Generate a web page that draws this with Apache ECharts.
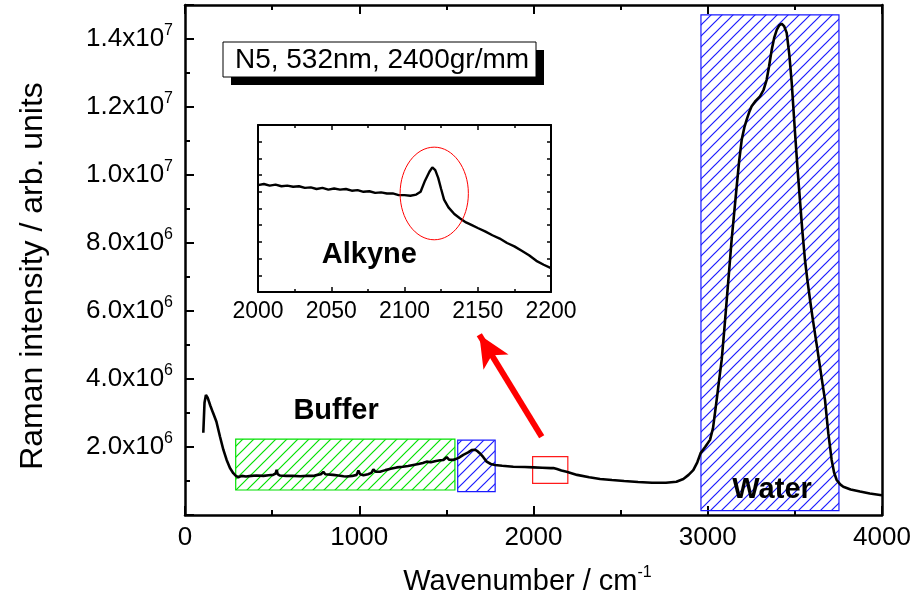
<!DOCTYPE html>
<html>
<head>
<meta charset="utf-8">
<script src="https://cdn.jsdelivr.net/npm/echarts@6/dist/echarts.min.js"></script>
<style>
  html, body { margin: 0; padding: 0; background: #fff; }
  #chart { width: 918px; height: 610px; }
</style>
</head>
<body>
<div id="chart"></div>
<script>
// Raman spectrum of sample N5 (532 nm excitation, 2400 gr/mm grating)
const wavenumber = [105, 112, 120, 130, 145, 162, 180, 201, 220, 239, 258, 277, 292, 306, 315, 325, 350, 380, 410, 450,
  480, 505, 520, 526, 532, 545, 580, 620, 660, 700, 736, 760, 780, 794, 805, 850, 880, 910, 928, 960,
  985, 995, 1005, 1024, 1050, 1070, 1081, 1095, 1119, 1150, 1180, 1215, 1250, 1280, 1310, 1340, 1365, 1387, 1410, 1440,
  1465, 1483, 1502, 1515, 1540, 1570, 1597, 1625, 1645, 1655, 1665, 1680, 1693, 1712, 1731, 1755, 1779, 1820, 1884, 1950,
  2000, 2050, 2100, 2114, 2120, 2125, 2135, 2160, 2190, 2250, 2320, 2382, 2450, 2520, 2600, 2680, 2760, 2820, 2860, 2890,
  2917, 2940, 2959, 2985, 3013, 3030, 3051, 3065, 3080, 3095, 3109, 3123, 3137, 3152, 3166, 3180, 3195, 3210, 3223, 3238,
  3252, 3275, 3300, 3320, 3338, 3352, 3367, 3382, 3396, 3410, 3424, 3438, 3453, 3468, 3482, 3501, 3515, 3529, 3543, 3558,
  3572, 3587, 3601, 3615, 3630, 3644, 3658, 3673, 3692, 3711, 3725, 3740, 3760, 3778, 3820, 3874, 3930, 3989, 4000];
// intensity in units of 10^6
const intensity = [2.42, 3.30, 3.53, 3.45, 3.22, 2.99, 2.75, 2.30, 1.92, 1.62, 1.38, 1.23, 1.15, 1.11, 1.10, 1.15, 1.13, 1.15, 1.16, 1.15,
  1.17, 1.18, 1.22, 1.33, 1.20, 1.16, 1.15, 1.15, 1.14, 1.15, 1.15, 1.18, 1.20, 1.27, 1.20, 1.18, 1.16, 1.14, 1.13, 1.15,
  1.18, 1.31, 1.20, 1.17, 1.20, 1.24, 1.34, 1.27, 1.27, 1.32, 1.36, 1.40, 1.42, 1.44, 1.47, 1.50, 1.53, 1.57, 1.55, 1.59,
  1.61, 1.62, 1.70, 1.63, 1.62, 1.68, 1.77, 1.84, 1.91, 1.93, 1.92, 1.87, 1.81, 1.70, 1.57, 1.50, 1.47, 1.45, 1.42, 1.41,
  1.40, 1.39, 1.38, 1.38, 1.43, 1.39, 1.35, 1.31, 1.27, 1.18, 1.11, 1.06, 1.03, 1.00, 0.97, 0.95, 0.95, 0.98, 1.06, 1.18,
  1.32, 1.55, 1.82, 2.00, 2.21, 2.55, 3.38, 3.95, 4.56, 5.45, 6.33, 7.20, 8.09, 8.90, 9.66, 10.40, 11.04, 11.40, 11.62, 11.85,
  12.02, 12.18, 12.31, 12.50, 12.80, 13.20, 13.68, 14.05, 14.27, 14.40, 14.45, 14.38, 14.18, 13.55, 12.70, 11.23, 10.20, 9.27, 8.35, 7.50,
  6.90, 6.33, 5.82, 5.35, 4.85, 4.36, 3.88, 3.38, 2.40, 1.62, 1.25, 1.03, 0.90, 0.83, 0.75, 0.69, 0.63, 0.59, 0.58];

// Zoomed view of the alkyne region
const insetWavenumber = [2000, 2004, 2008, 2012, 2016, 2020, 2024, 2028, 2032, 2036, 2040, 2044, 2048, 2052, 2056, 2060, 2064, 2068,
  2072, 2076, 2080, 2084, 2088, 2092, 2096, 2100, 2104, 2108, 2111, 2114, 2117, 2119, 2121, 2123, 2125, 2127, 2130, 2134,
  2138, 2142, 2146, 2150, 2155, 2160, 2165, 2170, 2175, 2180, 2185, 2190, 2195, 2200];
const insetIntensity = [1.392, 1.394, 1.391, 1.393, 1.390, 1.391, 1.389, 1.390, 1.387, 1.388, 1.385, 1.387, 1.384, 1.386, 1.384, 1.385, 1.382, 1.383,
  1.380, 1.381, 1.378, 1.379, 1.377, 1.377, 1.374, 1.374, 1.373, 1.375, 1.380, 1.400, 1.416, 1.424, 1.419, 1.405, 1.385, 1.366, 1.352, 1.340,
  1.332, 1.325, 1.320, 1.315, 1.309, 1.302, 1.296, 1.288, 1.282, 1.274, 1.266, 1.256, 1.249, 1.243];

// Highlighted regions: buffer, amide band, alkyne window, water
const regionX0 = [291, 1565, 1995, 2961];
const regionX1 = [1549, 1780, 2197, 3753];
const regionY0 = [0.736, 0.686, 0.933, 0.127];
const regionY1 = [2.23, 2.20, 1.716, 14.71];
const regionColor = ['#00e000', '#1a1aff', '#ff1a1a', '#1a1aff'];
const regionHatched = [true, true, false, true];

const xTicks = [0, 1000, 2000, 3000, 4000];
const insetTicks = [2000, 2050, 2100, 2150, 2200];

const FONT = "'Liberation Sans', Arial, sans-serif";

function hatch(color, step) {
  const c = document.createElement('canvas');
  c.width = step; c.height = step;
  const g = c.getContext('2d');
  g.strokeStyle = color;
  g.lineWidth = 1.2;
  g.beginPath();
  g.moveTo(0, step); g.lineTo(step, 0);
  g.moveTo(-step / 2, step / 2); g.lineTo(step / 2, -step / 2);
  g.moveTo(step / 2, step * 1.5); g.lineTo(step * 1.5, step / 2);
  g.stroke();
  return { image: c, repeat: 'repeat' };
}

const spectrum = wavenumber.map((w, i) => [w, intensity[i] * 1e6]);
const insetSpectrum = insetWavenumber.map((w, i) => [w, insetIntensity[i] * 1e6]);
const regions = regionX0.map((x0, i) => [x0, regionX1[i], regionY0[i] * 1e6, regionY1[i] * 1e6, i]);

function sciLabel(v) {
  if (v === 0 || v % 2e6 !== 0) return '';
  const e = Math.floor(Math.log10(v));
  const m = (v / Math.pow(10, e)).toFixed(1);
  return '{m|' + m + 'x10}{e|' + e + '}';
}
const plain = v => String(v);

const chart = echarts.init(document.getElementById('chart'), null, { renderer: 'canvas' });

const axisLine = { show: true, onZero: false, lineStyle: { color: '#000', width: 2.5 } };
const insetLine = { show: true, onZero: false, lineStyle: { color: '#000', width: 2 } };
const tickFont = { fontFamily: FONT, color: '#000' };
// negative lengths point the ticks into the plot area
const majorTick = { inside: false, length: -9, lineStyle: { width: 2, color: '#000' } };
const minorTick = { show: true, splitNumber: 2, length: -5, lineStyle: { width: 2, color: '#000' } };
const insetMajor = { inside: false, length: -5, lineStyle: { width: 1.5, color: '#000' } };
const insetMinor = { show: true, splitNumber: 2, length: -3, lineStyle: { width: 1.5, color: '#000' } };

chart.setOption({
  animation: false,
  backgroundColor: '#fff',
  grid: [
    { left: 185, top: 5, width: 697, height: 510 },
    { left: 258, top: 125, width: 293, height: 167, backgroundColor: '#fff', show: true, borderWidth: 0 }
  ],
  xAxis: [
    {
      type: 'value', gridIndex: 0, min: 0, max: 4000, interval: 1000, position: 'bottom',
      name: '{t|Wavenumber / cm}{s|-1}', nameLocation: 'middle', nameGap: 50,
      nameTextStyle: { padding: [0, 12, 0, 0],
                       rich: { t: { fontSize: 29, fontFamily: FONT, color: '#000', lineHeight: 34 },
                               s: { fontSize: 16, fontFamily: FONT, color: '#000', verticalAlign: 'top', lineHeight: 14 } } },
      axisLine, splitLine: { show: false }, axisTick: majorTick, minorTick,
      axisLabel: { ...tickFont, fontSize: 26, margin: 10, customValues: xTicks, formatter: plain }
    },
    {
      type: 'value', gridIndex: 0, min: 0, max: 4000, interval: 1000, position: 'top',
      axisLine, splitLine: { show: false }, axisTick: majorTick, minorTick,
      axisLabel: { show: false }
    },
    {
      type: 'value', gridIndex: 1, min: 2000, max: 2200, interval: 50, position: 'bottom',
      axisLine: insetLine, splitLine: { show: false }, axisTick: insetMajor, minorTick: insetMinor,
      axisLabel: { ...tickFont, fontSize: 23, margin: 8, customValues: insetTicks, formatter: plain }
    },
    {
      type: 'value', gridIndex: 1, min: 2000, max: 2200, interval: 50, position: 'top',
      axisLine: insetLine, splitLine: { show: false }, axisTick: insetMajor, minorTick: insetMinor,
      axisLabel: { show: false }
    }
  ],
  yAxis: [
    {
      type: 'value', gridIndex: 0, min: 0, max: 1.5e7, interval: 2e6, position: 'left',
      name: 'Raman intensity / arb. units', nameLocation: 'middle', nameGap: 136, nameRotate: 90,
      nameTextStyle: { fontSize: 32, fontFamily: FONT, color: '#000', padding: [0, 32, 0, 0] },
      axisLine, splitLine: { show: false }, axisTick: majorTick,
      axisLabel: {
        margin: 12, formatter: sciLabel,
        rich: { m: { fontSize: 26, fontFamily: FONT, color: '#000', lineHeight: 32 },
                e: { fontSize: 16, fontFamily: FONT, color: '#000', verticalAlign: 'top', lineHeight: 14 } }
      }
    },
    {
      type: 'value', gridIndex: 0, min: 0, max: 1.5e7, interval: 1e6, position: 'left',
      axisLine: { show: false }, splitLine: { show: false },
      axisTick: { inside: false, length: -5, lineStyle: { width: 2, color: '#000' } },
      axisLabel: { show: false }
    },
    {
      type: 'value', gridIndex: 0, min: 0, max: 1.5e7, position: 'right',
      axisLine, splitLine: { show: false }, axisTick: { show: false }, axisLabel: { show: false }
    },
    {
      type: 'value', gridIndex: 1, min: 1.2e6, max: 1.5e6, interval: 3e4, position: 'left',
      axisLine: insetLine, splitLine: { show: false }, axisTick: { inside: false, length: -4, lineStyle: { width: 1.5, color: '#000' } },
      axisLabel: { show: false }
    },
    {
      type: 'value', gridIndex: 1, min: 1.2e6, max: 1.5e6, interval: 3e4, position: 'right',
      axisLine: insetLine, splitLine: { show: false }, axisTick: { inside: false, length: -4, lineStyle: { width: 1.5, color: '#000' } },
      axisLabel: { show: false }
    }
  ],
  graphic: [
    { type: 'rect', shape: { x: 231, y: 50, width: 313, height: 35 }, style: { fill: '#000' }, z: 100 },
    { type: 'rect', shape: { x: 223, y: 42, width: 313, height: 35 }, style: { fill: '#fff', stroke: '#000', lineWidth: 1 }, z: 101 },
    { type: 'text', x: 382, y: 60, z: 102,
      style: { text: 'N5, 532nm, 2400gr/mm', fontSize: 28, fontFamily: FONT, fill: '#000', align: 'center', verticalAlign: 'middle' } }
  ],
  series: [
    {
      type: 'custom', xAxisIndex: 0, yAxisIndex: 0, data: regions, silent: true, z: 1,
      renderItem(params, api) {
        const i = api.value(4);
        const p0 = api.coord([api.value(0), api.value(3)]);
        const p1 = api.coord([api.value(1), api.value(2)]);
        const col = regionColor[i];
        return {
          type: 'rect',
          shape: { x: p0[0], y: p0[1], width: p1[0] - p0[0], height: p1[1] - p0[1] },
          style: { fill: regionHatched[i] ? hatch(col, 11) : 'none', stroke: col, lineWidth: 1.2 }
        };
      }
    },
    {
      type: 'line', xAxisIndex: 0, yAxisIndex: 0, data: spectrum, showSymbol: false, z: 3,
      lineStyle: { color: '#000', width: 2.6 },
      markLine: {
        silent: true, symbol: ['none', 'arrow'], symbolSize: [22, 32],
        label: { show: false },
        lineStyle: { color: '#ff0000', width: 6, type: 'solid' },
        data: [[{ coord: [2047, 2.30e6] }, { coord: [1689, 5.30e6] }]]
      }
    },
    {
      type: 'custom', xAxisIndex: 0, yAxisIndex: 0, silent: true, z: 4,
      data: [[867, 3.06e6, 'Buffer'], [3369, 0.74e6, 'Water']],
      renderItem(params, api) {
        const p = api.coord([api.value(0), api.value(1)]);
        return { type: 'text', x: p[0], y: p[1],
          style: { text: params.dataIndex === 0 ? 'Buffer' : 'Water', fontSize: 29, fontWeight: 'bold',
                   fontFamily: FONT, fill: '#000', align: 'center', verticalAlign: 'middle' } };
      }
    },
    {
      type: 'line', xAxisIndex: 2, yAxisIndex: 3, data: insetSpectrum, showSymbol: false, z: 5,
      lineStyle: { color: '#000', width: 2.4 }
    },
    {
      type: 'custom', xAxisIndex: 2, yAxisIndex: 3, silent: true, z: 6,
      data: [[2120.3, 1.377e6, 23.3, 0.0832e6]],
      renderItem(params, api) {
        const c = api.coord([api.value(0), api.value(1)]);
        const s = api.size([api.value(2), api.value(3)]);
        return { type: 'ellipse', shape: { cx: c[0], cy: c[1], rx: s[0], ry: s[1] },
                 style: { fill: 'none', stroke: '#ff0000', lineWidth: 1 } };
      }
    },
    {
      type: 'custom', xAxisIndex: 2, yAxisIndex: 3, silent: true, z: 6,
      data: [[2076, 1.266e6]],
      renderItem(params, api) {
        const p = api.coord([api.value(0), api.value(1)]);
        return { type: 'text', x: p[0], y: p[1],
          style: { text: 'Alkyne', fontSize: 29, fontWeight: 'bold', fontFamily: FONT, fill: '#000',
                   align: 'center', verticalAlign: 'middle' } };
      }
    }
  ]
});
</script>
</body>
</html>
